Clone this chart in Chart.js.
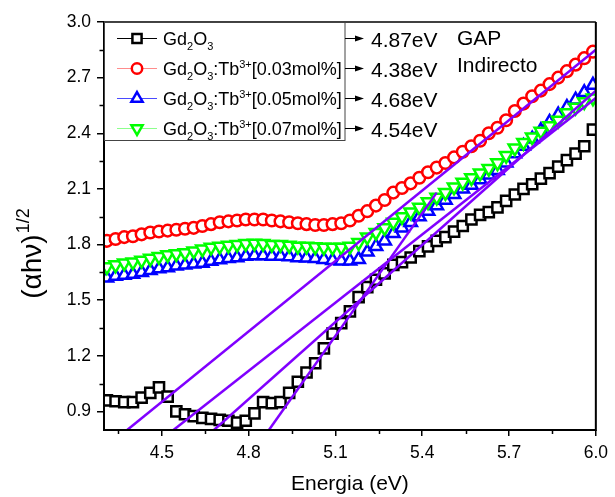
<!DOCTYPE html>
<html>
<head>
<meta charset="utf-8">
<script src="https://cdn.jsdelivr.net/npm/chart.js@4.4.1/dist/chart.umd.min.js"></script>
<style>
  html, body { margin: 0; padding: 0; background: #fff; }
  #wrap { width: 615px; height: 497px; }
</style>
</head>
<body>
<div id="wrap"><canvas id="chart" width="615" height="497"></canvas></div>
<script>
// photon energy (eV), shared by every series
const energia = [
  4.31, 4.34, 4.37, 4.40, 4.43, 4.46, 4.49, 4.52, 4.55, 4.58,
  4.61, 4.64, 4.67, 4.70, 4.73, 4.76, 4.79, 4.82, 4.85, 4.88,
  4.91, 4.94, 4.97, 5.00, 5.03, 5.06, 5.09, 5.12, 5.15, 5.18,
  5.21, 5.24, 5.27, 5.30, 5.33, 5.36, 5.39, 5.42, 5.45, 5.48,
  5.51, 5.54, 5.57, 5.60, 5.63, 5.66, 5.69, 5.72, 5.75, 5.78,
  5.81, 5.84, 5.87, 5.90, 5.93, 5.96, 5.99
];

// (alpha h nu)^1/2 for each sample
const gd2o3 = [
  0.96, 0.955, 0.95, 0.95, 0.975, 1.00, 1.03, 0.98, 0.90, 0.885,
  0.875, 0.865, 0.86, 0.855, 0.85, 0.84, 0.85, 0.89, 0.95, 0.945,
  0.95, 1.00, 1.06, 1.11, 1.16, 1.24, 1.32, 1.376, 1.44, 1.516,
  1.57, 1.61, 1.645, 1.69, 1.705, 1.73, 1.765, 1.79, 1.82, 1.84,
  1.87, 1.90, 1.935, 1.96, 1.975, 2.00, 2.035, 2.07, 2.10, 2.125,
  2.155, 2.185, 2.22, 2.255, 2.29, 2.33, 2.42
];
const tb003 = [
  1.82, 1.83, 1.84, 1.845, 1.855, 1.865, 1.87, 1.875, 1.88, 1.885,
  1.89, 1.90, 1.91, 1.92, 1.925, 1.93, 1.935, 1.935, 1.935, 1.93,
  1.925, 1.92, 1.915, 1.91, 1.905, 1.905, 1.91, 1.915, 1.93, 1.955,
  1.98, 2.01, 2.04, 2.08, 2.105, 2.13, 2.16, 2.19, 2.215, 2.24,
  2.27, 2.30, 2.33, 2.36, 2.40, 2.43, 2.47, 2.52, 2.56, 2.60,
  2.63, 2.665, 2.70, 2.735, 2.77, 2.805, 2.84
];
const tb005 = [
  1.62, 1.63, 1.635, 1.64, 1.65, 1.66, 1.67, 1.675, 1.685, 1.69,
  1.695, 1.70, 1.71, 1.718, 1.725, 1.73, 1.737, 1.74, 1.74, 1.738,
  1.737, 1.735, 1.73, 1.728, 1.725, 1.72, 1.715, 1.712, 1.712, 1.72,
  1.76, 1.79, 1.82, 1.86, 1.89, 1.92, 1.95, 1.98, 2.01, 2.04,
  2.07, 2.10, 2.12, 2.15, 2.175, 2.20, 2.24, 2.29, 2.33, 2.37,
  2.415, 2.46, 2.50, 2.54, 2.58, 2.62, 2.66
];
const tb007 = [
  1.68, 1.69, 1.70, 1.705, 1.715, 1.725, 1.735, 1.745, 1.75, 1.755,
  1.765, 1.775, 1.785, 1.79, 1.795, 1.80, 1.805, 1.807, 1.805, 1.80,
  1.80, 1.795, 1.79, 1.79, 1.787, 1.785, 1.785, 1.785, 1.79, 1.81,
  1.84, 1.865, 1.89, 1.92, 1.95, 1.975, 2.00, 2.03, 2.055, 2.08,
  2.11, 2.135, 2.16, 2.185, 2.21, 2.24, 2.28, 2.32, 2.35, 2.38,
  2.41, 2.44, 2.47, 2.51, 2.54, 2.57, 2.59
];

// linear fits: start at the gap value on the bottom of the plot
const gapValues = [4.87, 4.38, 4.68, 4.54];
const gapLabels = ['4.87eV', '4.38eV', '4.68eV', '4.54eV'];
const fitEndX = [5.45, 6.0, 6.0, 6.0];
const fitEndY = [2.08, 2.85, 2.63, 2.59];

const xMajorTicks = [4.5, 4.8, 5.1, 5.4, 5.7, 6.0];
const yMajorTicks = [0.9, 1.2, 1.5, 1.8, 2.1, 2.4, 2.7, 3.0];

// legend text, split for subscripts / superscripts
const seriesLabels = [
  [['Gd'], ['2', 'sub'], ['O'], ['3', 'sub']],
  [['Gd'], ['2', 'sub'], ['O'], ['3', 'sub'], [':Tb'], ['3+', 'sup'], ['[0.03mol%]']],
  [['Gd'], ['2', 'sub'], ['O'], ['3', 'sub'], [':Tb'], ['3+', 'sup'], ['[0.05mol%]']],
  [['Gd'], ['2', 'sub'], ['O'], ['3', 'sub'], [':Tb'], ['3+', 'sup'], ['[0.07mol%]']]
];

const FONT = "'Liberation Sans', Arial, sans-serif";
const FIT_COLOR = '#8000ff';
const X_MIN = 4.3, X_MAX = 6.0, Y_MIN = 0.8, Y_MAX = 3.0;

const series = [
  { values: gd2o3, color: '#000000', legendLine: '#000000', style: 'rect', radius: 7.2, rotation: 0 },
  { values: tb003, color: '#ff0000', legendLine: '#ff8c8c', style: 'circle', radius: 5.8, rotation: 0 },
  { values: tb005, color: '#0000ff', legendLine: '#4a4aff', style: 'triangle', radius: 7.2, rotation: 0 },
  { values: tb007, color: '#00ff00', legendLine: '#8cff8c', style: 'triangle', radius: 7.2, rotation: 180 }
];

function isMajor(list, v) {
  return list.some(m => Math.abs(m - v) < 1e-6);
}

function drawRich(ctx, parts, x, y, size) {
  let cx = x;
  parts.forEach(([t, kind]) => {
    const s = kind ? Math.round(size * 0.62) : size;
    ctx.font = s + 'px ' + FONT;
    let dy = 0;
    if (kind === 'sub') dy = size * 0.3;
    if (kind === 'sup') dy = -size * 0.4;
    ctx.fillText(t, cx, y + dy);
    cx += ctx.measureText(t).width;
  });
  return cx;
}

function drawMarker(ctx, s, x, y) {
  ctx.save();
  ctx.strokeStyle = s.color;
  ctx.fillStyle = '#fff';
  ctx.lineWidth = 2.5;
  ctx.beginPath();
  const r = s.radius * 0.9;
  if (s.style === 'rect') {
    const h = r * Math.SQRT1_2;
    ctx.rect(x - h, y - h, 2 * h, 2 * h);
  } else if (s.style === 'circle') {
    ctx.arc(x, y, r, 0, Math.PI * 2);
  } else {
    let rad = s.rotation * Math.PI / 180;
    for (let i = 0; i < 3; i++) {
      const px = x + Math.sin(rad) * r;
      const py = y - Math.cos(rad) * r;
      if (i === 0) ctx.moveTo(px, py); else ctx.lineTo(px, py);
      rad += Math.PI * 2 / 3;
    }
    ctx.closePath();
  }
  ctx.fill();
  ctx.stroke();
  ctx.restore();
}

const overlay = {
  id: 'overlay',
  afterDatasetsDraw(chart) {
    const ctx = chart.ctx;
    const { left, right, top, bottom } = chart.chartArea;
    const xs = chart.scales.x, ys = chart.scales.y;
    ctx.save();
    ctx.strokeStyle = '#000';
    // minor ticks
    ctx.lineWidth = 1.5;
    ctx.beginPath();
    xMajorTicks.forEach(v => {
      const px = Math.round(xs.getPixelForValue(v - 0.15)) + 0.5;
      ctx.moveTo(px, bottom); ctx.lineTo(px, bottom + 4);
    });
    yMajorTicks.forEach(v => {
      if (v - 0.15 < Y_MIN) return;
      const py = Math.round(ys.getPixelForValue(v - 0.15)) + 0.5;
      ctx.moveTo(left, py); ctx.lineTo(left - 4.5, py);
    });
    ctx.stroke();
    // frame
    ctx.lineWidth = 2;
    ctx.beginPath();
    ctx.moveTo(left, top); ctx.lineTo(left, bottom); ctx.lineTo(right, bottom); ctx.lineTo(right, top);
    ctx.stroke();
    ctx.lineWidth = 1.5;
    ctx.beginPath();
    ctx.moveTo(left, top); ctx.lineTo(right, top);
    ctx.stroke();
    ctx.restore();
  },
  afterDraw(chart) {
    const ctx = chart.ctx;
    const { left, top } = chart.chartArea;
    ctx.save();

    // legend box
    const boxR = 345, boxB = 140;
    ctx.fillStyle = '#fff';
    ctx.fillRect(left, top, boxR - left, boxB - top);
    ctx.strokeStyle = '#444';
    ctx.lineWidth = 1;
    ctx.strokeRect(left + 0.5, top + 0.5, boxR - left - 0.5, boxB - top);

    const rowY = [38.5, 68.5, 98.5, 128.5];
    series.forEach((s, i) => {
      const y = rowY[i];
      ctx.strokeStyle = s.legendLine;
      ctx.lineWidth = 1;
      ctx.beginPath();
      ctx.moveTo(117, y); ctx.lineTo(157, y);
      ctx.stroke();
      drawMarker(ctx, s, 137, y);
      ctx.fillStyle = '#000';
      ctx.textBaseline = 'alphabetic';
      ctx.textAlign = 'left';
      drawRich(ctx, seriesLabels[i], 163, y + 6.5, 18);

      // arrow to the gap value
      ctx.strokeStyle = '#000';
      ctx.lineWidth = 1;
      ctx.beginPath();
      ctx.moveTo(boxR, y); ctx.lineTo(357, y);
      ctx.stroke();
      ctx.fillStyle = '#000';
      ctx.beginPath();
      ctx.moveTo(364, y); ctx.lineTo(355, y - 3); ctx.lineTo(355, y + 3);
      ctx.closePath();
      ctx.fill();
      ctx.font = '21px ' + FONT;
      ctx.fillText(gapLabels[i], 371, y + 8);
    });

    ctx.font = '21px ' + FONT;
    ctx.fillText('GAP', 457, 45);
    ctx.fillText('Indirecto', 457, 71.5);

    // y axis title with exponent
    ctx.translate(41, 254);
    ctx.rotate(-Math.PI / 2);
    ctx.font = '28px ' + FONT;
    const main = '(\u03b1h\u03bd)';
    const w1 = ctx.measureText(main).width;
    ctx.font = '18px ' + FONT;
    const w2 = ctx.measureText('1/2').width;
    const x0 = -(w1 + w2) / 2;
    ctx.font = '28px ' + FONT;
    ctx.fillText(main, x0, 0);
    ctx.font = '18px ' + FONT;
    ctx.fillText('1/2', x0 + w1 + 1, -12);
    ctx.restore();
  }
};

const datasets = [];
gapValues.forEach((g, i) => {
  datasets.push({
    type: 'line',
    data: [{ x: g, y: Y_MIN }, { x: fitEndX[i], y: fitEndY[i] }],
    borderColor: FIT_COLOR,
    borderWidth: 2.5,
    pointRadius: 0,
    showLine: true,
    order: 0
  });
});
const drawOrder = [4, 3, 2, 1];
series.forEach((s, i) => {
  datasets.push({
    type: 'scatter',
    data: energia.map((x, k) => ({ x: x, y: s.values[k] })),
    borderColor: s.color,
    backgroundColor: '#ffffff',
    borderWidth: 2.5,
    pointStyle: s.style,
    pointRadius: s.radius,
    pointRotation: s.rotation,
    showLine: false,
    order: drawOrder[i]
  });
});

new Chart(document.getElementById('chart'), {
  data: { datasets: datasets },
  options: {
    responsive: false,
    animation: false,
    devicePixelRatio: 1,
    layout: { padding: { top: 22, right: 15, left: 0, bottom: 0 } },
    plugins: { legend: { display: false }, tooltip: { enabled: false } },
    scales: {
      x: {
        type: 'linear',
        min: X_MIN,
        max: X_MAX,
        afterFit: (scale) => { scale.height = 67; },
        afterBuildTicks: (scale) => {
          const t = [];
          xMajorTicks.forEach(v => { t.push({ value: v }); t.push({ value: +(v - 0.15).toFixed(2) }); });
          scale.ticks = t.sort((a, b) => a.value - b.value);
        },
        ticks: {
          autoSkip: false,
          maxRotation: 0,
          padding: 7,
          color: '#000',
          font: { family: FONT, size: 17.5 },
          callback: (v) => isMajor(xMajorTicks, v) ? v.toFixed(1) : ''
        },
        grid: {
          drawOnChartArea: false,
          drawTicks: true,
          tickLength: 6,
          lineWidth: 1.5,
          tickColor: (c) => (c.tick && isMajor(xMajorTicks, c.tick.value)) ? '#000' : 'rgba(0,0,0,0)'
        },
        border: { display: false },
        title: {
          display: true,
          text: 'Energia (eV)',
          color: '#000',
          font: { family: FONT, size: 21 },
          padding: { top: 0, bottom: 0 }
        }
      },
      y: {
        type: 'linear',
        min: Y_MIN,
        max: Y_MAX,
        afterFit: (scale) => { scale.width = 104; },
        afterBuildTicks: (scale) => {
          const t = [];
          yMajorTicks.forEach(v => {
            t.push({ value: v });
            if (v - 0.15 >= Y_MIN) t.push({ value: +(v - 0.15).toFixed(2) });
          });
          scale.ticks = t.sort((a, b) => a.value - b.value);
        },
        ticks: {
          autoSkip: false,
          padding: 6,
          color: '#000',
          font: { family: FONT, size: 17.5 },
          callback: (v) => isMajor(yMajorTicks, v) ? v.toFixed(1) : ''
        },
        grid: {
          drawOnChartArea: false,
          drawTicks: true,
          tickLength: 7,
          lineWidth: 1.5,
          tickColor: (c) => (c.tick && isMajor(yMajorTicks, c.tick.value)) ? '#000' : 'rgba(0,0,0,0)'
        },
        border: { display: false }
      }
    }
  },
  plugins: [overlay]
});
</script>
</body>
</html>
